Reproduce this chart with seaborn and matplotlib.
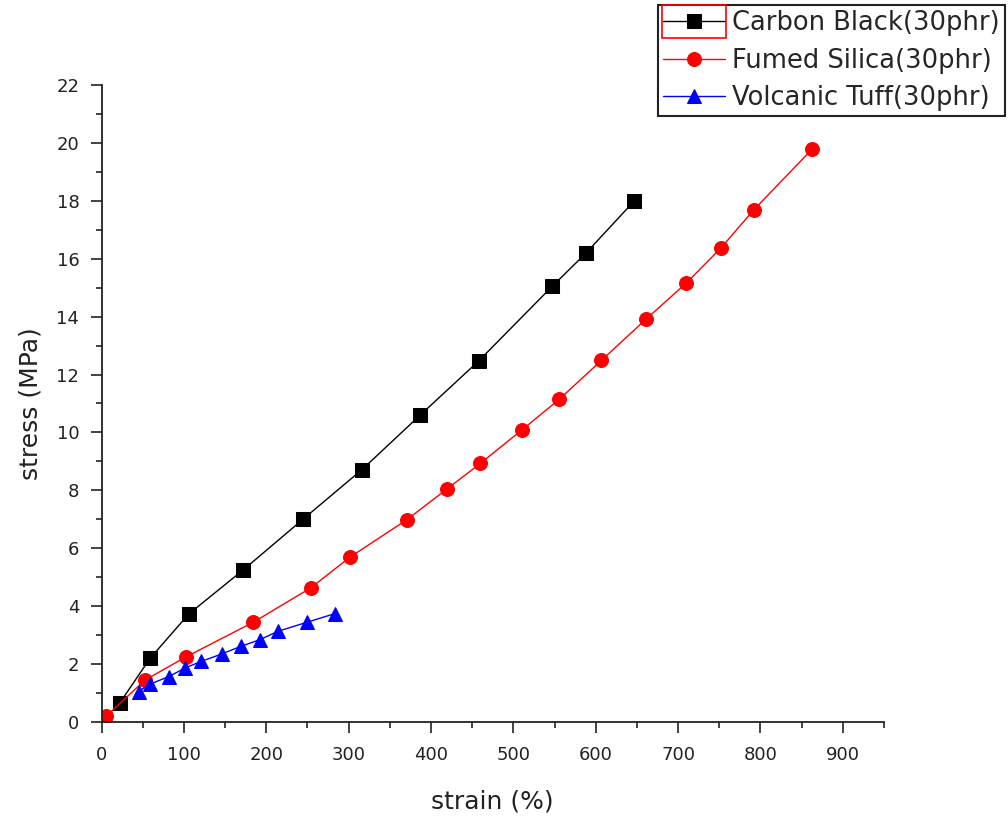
import matplotlib
matplotlib.use("Agg")
import matplotlib.pyplot as plt
from matplotlib.patches import Rectangle
from matplotlib.ticker import MultipleLocator
import seaborn as sns

# values
strain_cb = [22, 59, 106, 172, 245, 316, 387, 458, 547, 588, 647]
stress_cb = [0.65, 2.20, 3.73, 5.25, 7.01, 8.71, 10.60, 12.47, 15.04, 16.19, 18.00]

strain_fs = [6, 53, 102, 184, 254, 302, 371, 420, 460, 511, 556, 607, 661, 710, 752, 792, 863]
stress_fs = [0.21, 1.45, 2.24, 3.44, 4.63, 5.70, 6.99, 8.06, 8.93, 10.10, 11.15, 12.49,
             13.91, 15.16, 16.37, 17.69, 19.79]

strain_vt = [45, 59, 82, 101, 121, 146, 169, 192, 214, 249, 283]
stress_vt = [1.05, 1.31, 1.57, 1.86, 2.09, 2.35, 2.61, 2.84, 3.13, 3.44, 3.74]

labels = ["Carbon Black(30phr)", "Fumed Silica(30phr)", "Volcanic Tuff(30phr)"]
x_ticks = [0, 100, 200, 300, 400, 500, 600, 700, 800, 900]
y_ticks = [0, 2, 4, 6, 8, 10, 12, 14, 16, 18, 20, 22]

sns.set_style("ticks")
plt.rcParams['font.family'] = ['DejaVu Sans']

fig = plt.figure(figsize=(10.08, 8.17), dpi=100)
ax = fig.add_axes([0.1007, 0.1163, 0.7763, 0.7797])

series = [
    (strain_cb, stress_cb, "black", "s", 10),
    (strain_fs, stress_fs, "red", "o", 10),
    (strain_vt, stress_vt, "blue", "^", 10),
]
for (xs, ys, col, mk, ms), lab in zip(series, labels):
    sns.lineplot(x=xs, y=ys, ax=ax, color=col, marker=mk, markersize=ms,
                 markeredgecolor=col, markerfacecolor=col, linewidth=1.0,
                 label=lab, sort=False)

ax.set_xlim(0, 950)
ax.set_ylim(0, 22)
ax.set_xticks(x_ticks)
ax.set_yticks(y_ticks)
ax.xaxis.set_minor_locator(MultipleLocator(50))
ax.yaxis.set_minor_locator(MultipleLocator(1))

sns.despine(ax=ax)
for sp in ["left", "bottom"]:
    ax.spines[sp].set_linewidth(1.3)
    ax.spines[sp].set_color("#222222")
ax.tick_params(which="major", direction="out", length=8, width=1.2,
               labelsize=13, labelcolor="#222222", color="#222222")
ax.tick_params(which="minor", direction="out", length=4.5, width=1.2, color="#222222")
ax.tick_params(axis="x", which="major", pad=9)
ax.tick_params(axis="y", which="major", pad=8)

ax.set_xlabel("strain (%)", fontsize=18, color="#222222", labelpad=19)
ax.set_ylabel("stress (MPa)", fontsize=18, color="#222222", labelpad=10)

leg = ax.legend(loc="upper right", bbox_to_anchor=(1005 / 1008, 1 - 5 / 817),
                bbox_transform=fig.transFigure, fontsize=18.5, frameon=True,
                fancybox=False, edgecolor="#222222", framealpha=1,
                borderaxespad=0, borderpad=0.2, handlelength=2.4,
                handletextpad=0.3, labelspacing=0.45)
leg.get_frame().set_linewidth(1.5)

# red selection box round the first legend handle, as in the original
fig.canvas.draw()
line0 = leg.get_lines()[0]
pts = line0.get_transform().transform(line0.get_xydata())
xa, xb = pts[:, 0].min(), pts[:, 0].max()
yc = pts[0, 1]
inv = fig.transFigure.inverted()
(x0, y0), (x1, y1) = inv.transform([(xa - 1, yc - 17), (xb + 1, yc + 16)])
fig.patches.append(Rectangle((x0, y0), x1 - x0, y1 - y0, fill=False,
                             edgecolor="red", linewidth=1.2,
                             transform=fig.transFigure, figure=fig))

fig.savefig("out.png", dpi=100)
plt.close(fig)
